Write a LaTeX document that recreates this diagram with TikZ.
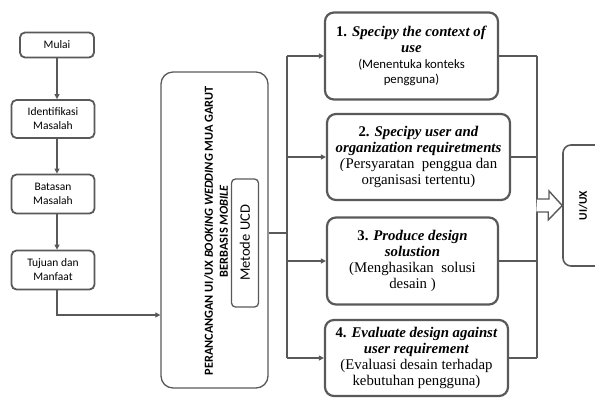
\documentclass[tikz,border=0pt]{standalone}
\usepackage{fontspec}
\setmainfont{Liberation Serif}
\newfontfamily\calib{Carlito}
\usetikzlibrary{arrows.meta}
\definecolor{ln}{HTML}{595959}
\begin{document}
\begin{tikzpicture}[x=1pt,y=-1pt,
  flow/.style={draw=ln,line width=1.8pt,rounded corners=5pt,align=center,
    font=\calib\fontsize{11.5}{14}\selectfont,inner sep=1pt},
  stagebox/.style={draw=ln,line width=2.2pt,rounded corners=9pt,align=center,
    font=\fontsize{14.8}{15.8}\selectfont,inner sep=1pt},
  link/.style={draw=ln,line width=1.6pt,-{Triangle[length=5pt,width=5pt]}},
  wire/.style={draw=ln,line width=1.6pt}]
\useasboundingbox (0,0) rectangle (595,400);

% left flow
\node[flow,minimum width=74,minimum height=25] (mulai) at (57,45) {Mulai};
\node[flow,minimum width=83,minimum height=38] (ident) at (53,119) {Identifikasi\\Masalah};
\node[flow,minimum width=83,minimum height=39] (batas) at (53,194) {Batasan\\Masalah};
\node[flow,minimum width=83,minimum height=39] (tujuan) at (53,270) {Tujuan dan\\Manfaat};

% main design box
\node[draw=ln,line width=1.3pt,rounded corners=12pt,minimum width=107,minimum height=316] (main) at (214.5,230) {};
\node[rotate=90,align=center,font=\calib\bfseries\fontsize{12.3}{15}\selectfont] (title) at (216,231)
  {PERANCANGAN UI/UX \textit{BOOKING WEDDING} MUA GARUT\\BERBASIS \textit{MOBILE}};
\node[draw=ln,line width=1.3pt,rounded corners=4pt,minimum width=27,minimum height=128,inner sep=0pt] (ucd) at (245,243) {};
\node[rotate=90,font=\calib\fontsize{14.5}{16}\selectfont] (ucdtext) at (ucd.center) {Metode UCD};

% UCD stages
\node[stagebox,minimum width=173,minimum height=87] (s1) at (411.5,56) {%
  \textbf{1. \textit{Specipy the context of}}\\\textbf{\textit{use}}\\
  {\calib\fontsize{12.8}{15.8}\selectfont(Menentuka konteks}\\{\calib\fontsize{12.8}{15.8}\selectfont pengguna)}};
\node[stagebox,minimum width=183,minimum height=86] (s2) at (418.5,157) {%
  \textbf{2. \textit{Specipy user and}}\\\textbf{\textit{organization requiretments}}\\
  \textit{(}Persyaratan\ \ penggua dan\\organisasi tertentu)};
\node[stagebox,minimum width=171,minimum height=87] (s3) at (412.5,261) {%
  \textbf{3. \textit{Produce design}}\\\textbf{\textit{solustion}}\\
  (Menghasikan\ \ solusi\\desain )};
\node[stagebox,minimum width=183,minimum height=76] (s4) at (416.5,358) {%
  \textbf{4. \textit{Evaluate design against}}\\\textbf{\textit{user requirement}}\\
  (Evaluasi desain terhadap\\kebutuhan pengguna)};

% result box
\node[draw=ln,line width=1.6pt,rounded corners=8pt,minimum width=50,minimum height=121] (uiux) at (588,205.5) {};
\node[rotate=90,font=\calib\bfseries\fontsize{11.5}{13}\selectfont] (uiuxtext) at (583,205.5) {UI/UX};

% connectors of the left flow
\draw[link] (mulai.south) -- (mulai.south |- ident.north);
\draw[link] (mulai.south |- ident.south) -- (mulai.south |- batas.north);
\draw[link] (mulai.south |- batas.south) -- (mulai.south |- tujuan.north);
\coordinate (bend) at (57,315);
\draw[link] (mulai.south |- tujuan.south) -- (bend) -- (bend -| main.west);

% branching to the stages
\coordinate (trunk) at (287,233);
\draw[wire] (trunk -| main.east) -- (trunk);
\draw[wire] (trunk |- s1.west) -- (trunk |- s4.west);
\foreach \s in {s1,s2,s3,s4}
  \draw[link] (trunk |- \s.west) -- (\s.west);

% collecting the stages
\coordinate (coll) at (537,205.5);
\foreach \s in {s1,s2,s3,s4}
  \draw[wire] (\s.east) -- (coll |- \s.east);
\draw[wire] (coll |- s1.east) -- (coll |- s4.east);

% hollow block arrow
\draw[ln,line width=1.4pt,fill=white,line join=miter]
  (coll) ++(0,-6.5) -- ++(12,0) -- ++(0,-8) -- (uiux.west) -- ++(-14,14.5) -- ++(0,-8) -- ++(-12,0);
\end{tikzpicture}
\end{document}
